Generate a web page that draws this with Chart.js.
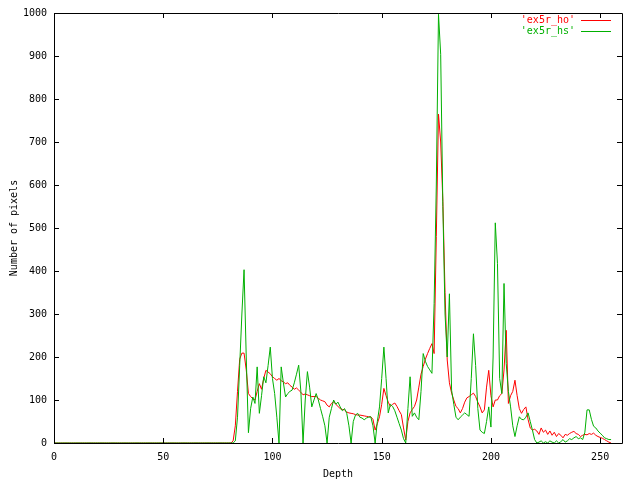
<!DOCTYPE html>
<html>
<head>
<meta charset="utf-8">
<script src="https://cdn.jsdelivr.net/npm/chart.js@4"></script>
<style>
html,body{margin:0;padding:0;background:#fff;}
#wrap{width:640px;height:480px;position:relative;}
</style>
</head>
<body>
<div id="wrap"><canvas id="c" width="640" height="480"></canvas></div>
<script>
const seriesNames = ["'ex5r_ho'", "'ex5r_hs'"];
const xTitle = "Depth";
const yTitle = "Number of pixels";
const xTickValues = [0, 50, 100, 150, 200, 250];
const yTickValues = [0, 100, 200, 300, 400, 500, 600, 700, 800, 900, 1000];

// depth index 0..255
const depths = Array.from({length: 256}, (_, i) => i);

const hoValues = [
  0,0,0,0,0,0,0,0,0,0, 0,0,0,0,0,0,0,0,0,0,
  0,0,0,0,0,0,0,0,0,0, 0,0,0,0,0,0,0,0,0,0,
  0,0,0,0,0,0,0,0,0,0, 0,0,0,0,0,0,0,0,0,0,
  0,0,0,0,0,0,0,0,0,0, 0,0,0,0,0,0,0,0,0,0,
  0,0,
  5,40,120,195,209,209,170,115,108,103,100,120,138,125,150,169,165,161,
  154,150,146,150,145,142,138,140,134,130,125,128,123,118,112,114,112,110,108,108,
  108,104,100,98,96,88,84,92,96,90,85,80,78,77,72,70,69,68,66,65,
  65,64,63,62,61,61,55,30,45,61,90,127,110,95,85,90,93,85,75,66,
  35,7,50,70,78,85,100,130,160,178,195,208,220,231,208,480,765,700,562,350,
  193,140,116,100,85,80,70,80,95,105,108,112,116,108,95,84,70,77,130,169,
  110,84,100,100,110,115,170,262,92,110,120,146,110,80,69,78,84,55,35,30,
  32,28,20,35,25,30,20,28,18,25,15,22,18,12,20,18,22,25,27,22,
  20,15,18,20,19,22,20,23,18,15,13,11,8,5,2,0
];

const hsValues = [
  0,0,0,0,0,0,0,0,0,0, 0,0,0,0,0,0,0,0,0,0,
  0,0,0,0,0,0,0,0,0,0, 0,0,0,0,0,0,0,0,0,0,
  0,0,0,0,0,0,0,0,0,0, 0,0,0,0,0,0,0,0,0,0,
  0,0,0,0,0,0,0,0,0,0, 0,0,0,0,0,0,0,0,0,0,
  0,0,
  0,5,60,180,300,403,200,24,80,107,92,177,69,110,154,140,180,223,
  150,115,60,0,177,140,107,115,120,123,140,160,181,120,0,100,166,130,84,100,
  115,100,80,61,40,0,60,80,100,90,95,84,75,80,69,40,0,50,65,69,
  60,58,54,58,60,61,40,0,50,84,150,223,150,70,90,85,75,60,45,30,
  10,0,80,154,62,70,60,54,120,208,190,178,170,162,324,600,997,904,550,300,
  200,347,123,90,60,54,60,65,70,66,62,150,254,180,80,30,25,22,50,84,
  37,200,512,417,150,115,371,185,120,84,40,15,40,61,55,54,60,70,50,30,
  8,0,2,5,0,3,0,5,2,0,5,0,3,8,2,5,10,8,12,15,
  10,12,8,25,77,77,55,39,35,28,23,18,12,10,8,8
];

const seriesColors = ['#ff0000', '#00b000'];
const FONT = '"DejaVu Sans Mono", monospace';

const frame = {
  id: 'frame',
  afterDraw(chart) {
    const {ctx, chartArea: a, scales: {x, y}} = chart;
    ctx.save();
    ctx.strokeStyle = '#000';
    ctx.lineWidth = 1;
    ctx.beginPath();
    ctx.rect(Math.round(a.left) + 0.5, Math.round(a.top) + 0.5,
             Math.round(a.right - a.left), Math.round(a.bottom - a.top));
    ctx.stroke();
    const L = 5;
    ctx.beginPath();
    x.ticks.forEach(t => {
      const px = Math.round(x.getPixelForValue(t.value)) + 0.5;
      ctx.moveTo(px, a.bottom); ctx.lineTo(px, a.bottom - L);
      ctx.moveTo(px, a.top); ctx.lineTo(px, a.top + L);
    });
    y.ticks.forEach(t => {
      const py = Math.round(y.getPixelForValue(t.value)) + 0.5;
      ctx.moveTo(a.left, py); ctx.lineTo(a.left + L, py);
      ctx.moveTo(a.right, py); ctx.lineTo(a.right - L, py);
    });
    ctx.stroke();

    // axis titles
    ctx.fillStyle = '#000';
    ctx.font = '10px ' + FONT;
    ctx.textAlign = 'center';
    ctx.textBaseline = 'middle';
    ctx.fillText(xTitle, (a.left + a.right) / 2, 474);
    ctx.save();
    ctx.translate(14, (a.top + a.bottom) / 2);
    ctx.rotate(-Math.PI / 2);
    ctx.fillText(yTitle, 0, 0);
    ctx.restore();

    // key
    chart.data.datasets.forEach((ds, i) => {
      const ky = 20 + i * 11;
      ctx.fillStyle = ds.borderColor;
      ctx.textAlign = 'right';
      ctx.fillText(ds.label, 575, ky);
      ctx.strokeStyle = ds.borderColor;
      ctx.beginPath();
      ctx.moveTo(581, ky + 0.5); ctx.lineTo(611, ky + 0.5);
      ctx.stroke();
    });
    ctx.restore();
  }
};

new Chart(document.getElementById('c'), {
  type: 'line',
  data: {
    datasets: [
      { label: seriesNames[0], data: depths.map((d, i) => ({x: d, y: hoValues[i]})),
        borderColor: seriesColors[0], borderWidth: 1, pointRadius: 0, tension: 0, fill: false, order: 1 },
      { label: seriesNames[1], data: depths.map((d, i) => ({x: d, y: hsValues[i]})),
        borderColor: seriesColors[1], borderWidth: 1, pointRadius: 0, tension: 0, fill: false, order: 0 }
    ]
  },
  options: {
    responsive: false,
    animation: false,
    devicePixelRatio: 1,
    layout: { padding: { top: 12, right: 18, left: 0, bottom: 0 } },
    plugins: { legend: { display: false }, tooltip: { enabled: false } },
    scales: {
      x: {
        type: 'linear', min: 0, max: 260,
        afterBuildTicks: s => { s.ticks = xTickValues.map(v => ({value: v})); },
        afterFit: s => { s.height = 37; },
        grid: { display: false, drawTicks: false },
        border: { display: false },
        ticks: { color: '#000', font: { family: FONT, size: 10 }, padding: 8, maxRotation: 0, autoSkip: false,
                 callback: v => String(v) }
      },
      y: {
        type: 'linear', min: 0, max: 1000,
        afterBuildTicks: s => { s.ticks = yTickValues.map(v => ({value: v})); },
        afterFit: s => { s.width = 54; },
        grid: { display: false, drawTicks: false },
        border: { display: false },
        ticks: { color: '#000', font: { family: FONT, size: 10 }, padding: 7, autoSkip: false,
                 callback: v => String(v) }
      }
    }
  },
  plugins: [frame]
});
</script>
</body>
</html>
